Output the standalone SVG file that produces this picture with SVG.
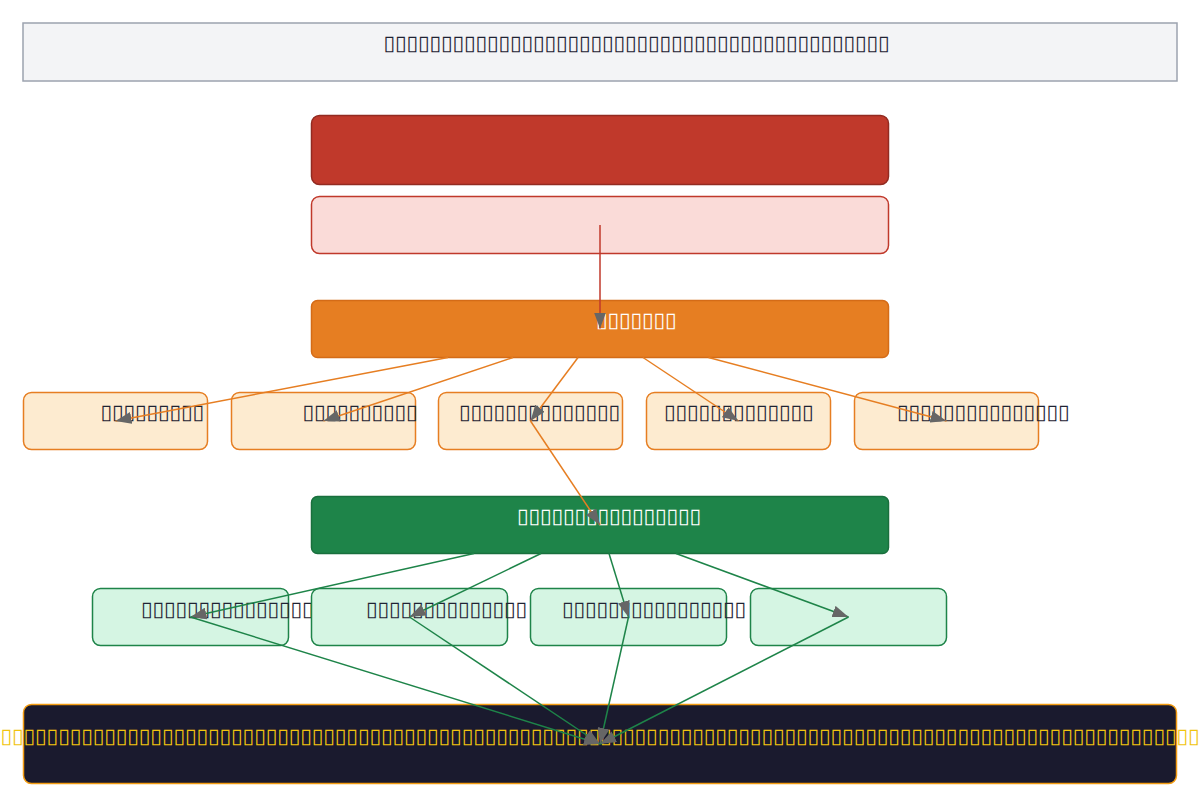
<svg xmlns="http://www.w3.org/2000/svg" width="1200" height="808" viewBox="0 0 1200 808">
<defs>
<style>
.t{font-family:"DejaVu Sans","Noto Sans",sans-serif;font-size:21px;}
.dark{fill:#1f2333;}
.white{fill:#ffffff;}
.gold{fill:#f1c40f;}
.eo{stroke:#e67e22;stroke-width:1.5;fill:none;}
.eg{stroke:#1e8449;stroke-width:1.5;fill:none;}
.er{stroke:#c0392b;stroke-width:1.5;fill:none;}
.nr{fill:#fdebd0;stroke:#e67e22;stroke-width:1.5;}
.ng{fill:#d5f5e3;stroke:#1e8449;stroke-width:1.5;}
</style>
<marker id="ah" markerUnits="userSpaceOnUse" markerWidth="16" markerHeight="12" refX="16" refY="6" orient="auto">
<path d="M0,0 L16,6 L0,12 z" fill="#666666"/>
</marker>
</defs>

<g id="title">
<rect x="23" y="23" width="1154" height="58" fill="#f3f4f6" stroke="#9ca3af" stroke-width="1.5"/>
<text class="t dark" x="383.5" y="50" textLength="506" lengthAdjust="spacingAndGlyphs">▯▯▯▯▯▯▯▯▯▯▯▯▯▯▯▯▯▯▯▯▯▯▯▯▯▯▯▯▯▯▯▯▯▯▯▯▯▯▯▯▯▯▯▯</text>
</g>

<g id="header">
<rect x="311.5" y="115.5" width="577" height="69" rx="8" fill="#c0392b" stroke="#922b21" stroke-width="1.5"/>
</g>

<g id="subheader">
<rect x="311.5" y="196.5" width="577" height="57" rx="8" fill="#fadbd8" stroke="#c0392b" stroke-width="1.5"/>
</g>

<g id="orange-main">
<rect x="311.5" y="300.5" width="577" height="57" rx="6" fill="#e67e22" stroke="#d46b17" stroke-width="1.5"/>
<text class="t white" x="596" y="327" textLength="80.5" lengthAdjust="spacingAndGlyphs">▯▯▯▯▯▯▯</text>
</g>

<g id="o1">
<rect class="nr" x="23.5" y="392.5" width="184" height="57" rx="8"/>
<text class="t dark" x="100.5" y="419" textLength="103.5" lengthAdjust="spacingAndGlyphs">▯▯▯▯▯▯▯▯▯</text>
</g>
<g id="o2">
<rect class="nr" x="231.5" y="392.5" width="184" height="57" rx="8"/>
<text class="t dark" x="302.5" y="419" textLength="115" lengthAdjust="spacingAndGlyphs">▯▯▯▯▯▯▯▯▯▯</text>
</g>
<g id="o3">
<rect class="nr" x="438.5" y="392.5" width="184" height="57" rx="8"/>
<text class="t dark" x="459" y="419" textLength="161" lengthAdjust="spacingAndGlyphs">▯▯▯▯▯▯▯▯▯▯▯▯▯▯</text>
</g>
<g id="o4">
<rect class="nr" x="646.5" y="392.5" width="184" height="57" rx="8"/>
<text class="t dark" x="664" y="419" textLength="149.5" lengthAdjust="spacingAndGlyphs">▯▯▯▯▯▯▯▯▯▯▯▯▯</text>
</g>
<g id="o5">
<rect class="nr" x="854.5" y="392.5" width="184" height="57" rx="8"/>
<text class="t dark" x="897" y="419" textLength="172.5" lengthAdjust="spacingAndGlyphs">▯▯▯▯▯▯▯▯▯▯▯▯▯▯▯</text>
</g>

<g id="green-main">
<rect x="311.5" y="496.5" width="577" height="57" rx="6" fill="#1e8449" stroke="#196f3d" stroke-width="1.5"/>
<text class="t white" x="517" y="523" textLength="184" lengthAdjust="spacingAndGlyphs">▯▯▯▯▯▯▯▯▯▯▯▯▯▯▯▯</text>
</g>

<g id="g1">
<rect class="ng" x="92.5" y="588.5" width="196" height="57" rx="8"/>
<text class="t dark" x="141" y="616" textLength="172.5" lengthAdjust="spacingAndGlyphs">▯▯▯▯▯▯▯▯▯▯▯▯▯▯▯</text>
</g>
<g id="g2">
<rect class="ng" x="311.5" y="588.5" width="196" height="57" rx="8"/>
<text class="t dark" x="366" y="616" textLength="161" lengthAdjust="spacingAndGlyphs">▯▯▯▯▯▯▯▯▯▯▯▯▯▯</text>
</g>
<g id="g3">
<rect class="ng" x="530.5" y="588.5" width="196" height="57" rx="8"/>
<text class="t dark" x="562" y="616" textLength="184" lengthAdjust="spacingAndGlyphs">▯▯▯▯▯▯▯▯▯▯▯▯▯▯▯▯</text>
</g>
<g id="g4">
<rect class="ng" x="750.5" y="588.5" width="196" height="57" rx="8"/>
</g>

<g id="footer">
<rect x="23.5" y="704.5" width="1153" height="79" rx="8" fill="#1a1a2e" stroke="#f39c12" stroke-width="1.5"/>
<text class="t gold" x="0.5" y="743" textLength="1199" lengthAdjust="spacingAndGlyphs">▯▯▯▯▯▯▯▯▯▯▯▯▯▯▯▯▯▯▯▯▯▯▯▯▯▯▯▯▯▯▯▯▯▯▯▯▯▯▯▯▯▯▯▯▯▯▯▯▯▯▯▯▯▯▯▯▯▯▯▯▯▯▯▯▯▯▯▯▯▯▯▯▯▯▯▯▯▯▯▯▯▯▯▯▯▯▯▯▯▯▯▯▯▯▯▯▯▯▯▯▯▯▯▯</text>
</g>

<g id="connectors">
<line class="er" x1="600" y1="225" x2="600" y2="328.5" marker-end="url(#ah)"/>
<line class="eo" x1="448" y1="357.5" x2="115.5" y2="421" marker-end="url(#ah)"/>
<line class="eo" x1="513" y1="357.5" x2="323.5" y2="421" marker-end="url(#ah)"/>
<line class="eo" x1="578" y1="357.5" x2="530.5" y2="421" marker-end="url(#ah)"/>
<line class="eo" x1="643" y1="357.5" x2="738.5" y2="421" marker-end="url(#ah)"/>
<line class="eo" x1="708.5" y1="357.5" x2="946.5" y2="421" marker-end="url(#ah)"/>
<line class="eo" x1="530.5" y1="421" x2="600" y2="525" marker-end="url(#ah)"/>
<line class="eg" x1="474" y1="553.5" x2="190.5" y2="617" marker-end="url(#ah)"/>
<line class="eg" x1="541" y1="553.5" x2="409.5" y2="617" marker-end="url(#ah)"/>
<line class="eg" x1="609" y1="553.5" x2="628.5" y2="617" marker-end="url(#ah)"/>
<line class="eg" x1="676" y1="553.5" x2="848.5" y2="617" marker-end="url(#ah)"/>
<line class="eg" x1="190.5" y1="617" x2="600" y2="744" marker-end="url(#ah)"/>
<line class="eg" x1="409.5" y1="617" x2="600" y2="744" marker-end="url(#ah)"/>
<line class="eg" x1="628.5" y1="617" x2="600" y2="744" marker-end="url(#ah)"/>
<line class="eg" x1="848.5" y1="617" x2="600" y2="744" marker-end="url(#ah)"/>
</g>
</svg>
